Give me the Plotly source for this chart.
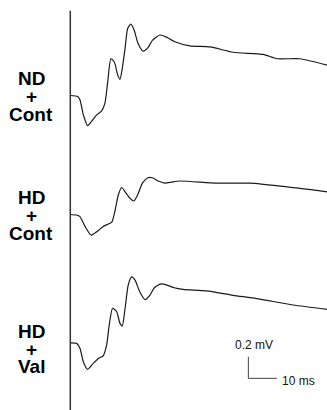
import plotly.graph_objects as go

# ---- data: evoked field potentials (time in ms after stimulus, voltage in mV rel. baseline)
labels = [["ND", "+", "Cont"], ["HD", "+", "Cont"], ["HD", "+", "Val"]]

t_nd_cont = [0, 2.6, 3.4, 4.6, 6.1, 7.5, 9.3, 11.1, 12.2, 13.2, 14.3, 15.5, 16.7, 17.5, 18.3,
             19.3, 20.2, 21.3, 22.4, 23.9, 25.7, 27.3, 28.9, 31.6, 33.9, 36.6, 42.1, 49.2,
             57.3, 67.9, 72.8, 80.9, 90.4]
v_nd_cont = [0, -0.01, -0.04, -0.18, -0.28, -0.24, -0.18, -0.14, -0.07, 0.13, 0.34, 0.31, 0.19,
             0.15, 0.25, 0.44, 0.62, 0.66, 0.61, 0.48, 0.41, 0.44, 0.51, 0.56, 0.54, 0.50, 0.46,
             0.45, 0.40, 0.38, 0.34, 0.34, 0.28]

t_hd_cont = [0, 2.2, 3.4, 5.2, 7.3, 9.3, 11.6, 14.6, 15.7, 16.9, 18.1, 19.3, 21.0, 22.4, 23.7,
             25.4, 27.3, 28.9, 31.0, 33.3, 35.7, 38.6, 51.5, 63.3, 74.9, 90.4]
v_hd_cont = [0, -0.005, -0.02, -0.11, -0.19, -0.16, -0.11, -0.07, 0.03, 0.18, 0.25, 0.21, 0.15,
             0.125, 0.18, 0.29, 0.34, 0.34, 0.31, 0.29, 0.30, 0.31, 0.29, 0.29, 0.26, 0.21]

t_hd_val = [0, 2.25, 3.4, 4.6, 6.1, 8.1, 9.9, 11.6, 12.8, 13.7, 14.9, 16.3, 17.5, 18.3, 19.3,
            20.4, 21.6, 22.8, 24.5, 26.3, 28.0, 29.6, 31.9, 34.5, 36.6, 39.7, 48.0, 57.3,
            65.6, 78.4, 90.4]
v_hd_val = [0, -0.005, -0.05, -0.175, -0.245, -0.19, -0.145, -0.12, -0.02, 0.165, 0.32, 0.29,
            0.18, 0.155, 0.32, 0.535, 0.61, 0.58, 0.47, 0.40, 0.44, 0.51, 0.545, 0.53, 0.51,
            0.495, 0.48, 0.44, 0.41, 0.35, 0.31]

scale_mv = 0.2
scale_ms = 10

# ---- layout constants
offsets = [-0.884, -1.986, -3.174]          # vertical stacking of traces (mV)
label_dy = [0.153, -0.011, -0.172]          # per-line offsets of the stacked labels
label_y0 = [-0.884, -1.986, -3.223]
FONT = "Liberation Sans, Arial, sans-serif"

fig = go.Figure()
series = [(t_nd_cont, v_nd_cont), (t_hd_cont, v_hd_cont), (t_hd_val, v_hd_val)]
for (t, v), off in zip(series, offsets):
    fig.add_trace(go.Scatter(x=t, y=[vv + off for vv in v], mode="lines",
                             line=dict(color="#1a1a1a", width=1.2, shape="spline", smoothing=0.6),
                             hoverinfo="skip", showlegend=False))

# stimulus line
fig.add_shape(type="line", x0=0, x1=0, y0=-0.10, y1=-3.80, xref="x", yref="y",
              line=dict(color="#333333", width=1.5))

# scale bar
sx, sy = 62.7, -3.503
fig.add_shape(type="line", x0=sx, x1=sx, y0=sy, y1=sy + scale_mv, line=dict(color="#444", width=1))
fig.add_shape(type="line", x0=sx, x1=sx + scale_ms, y0=sy, y1=sy, line=dict(color="#444", width=1))
fig.add_annotation(x=sx + 1.9, y=sy + scale_mv + 0.105, text=f"{scale_mv} mV", showarrow=False,
                   font=dict(family=FONT, size=12, color="#111"))
fig.add_annotation(x=sx + scale_ms + 7.5, y=sy - 0.02, text=f"{scale_ms} ms", showarrow=False,
                   font=dict(family=FONT, size=12, color="#111"))

# group labels
for lab, y0 in zip(labels, label_y0):
    for word, dy in zip(lab, label_dy):
        fig.add_annotation(x=-13.8, y=y0 + dy, text=f"<b>{word}</b>", showarrow=False,
                           font=dict(family=FONT, size=19, color="#000"))

fig.update_layout(width=327, height=410, margin=dict(l=0, r=0, t=0, b=0),
                  paper_bgcolor="white", plot_bgcolor="white",
                  xaxis=dict(range=[-24.75, 90.39], visible=False, fixedrange=True),
                  yaxis=dict(range=[-3.796, 0], visible=False, fixedrange=True))

fig.write_html("out.html", config={"displayModeBar": False},
               post_script="document.body.style.margin='0';document.body.style.overflow='hidden';")
